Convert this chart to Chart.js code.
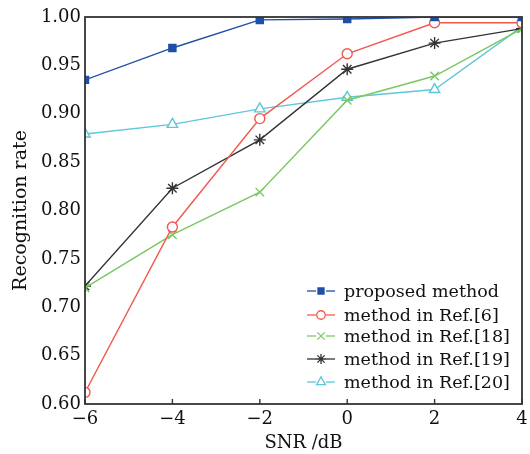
<!DOCTYPE html>
<html>
<head>
<meta charset="utf-8">
<script src="https://cdn.jsdelivr.net/npm/chart.js@4"></script>
<style>
html,body{margin:0;padding:0;background:#fff;}
#wrap{width:530px;height:454px;position:relative;}
</style>
</head>
<body>
<div id="wrap"><canvas id="c" width="530" height="454"></canvas></div>
<script>
const snr = [-6, -4, -2, 0, 2, 4];
const proposed = [0.935, 0.968, 0.997, 0.998, 1.000, 1.000];
const ref6 = [0.612, 0.783, 0.895, 0.962, 0.994, 0.994];
const ref18 = [0.720, 0.775, 0.819, 0.914, 0.939, 0.988];
const ref19 = [0.722, 0.823, 0.873, 0.946, 0.973, 0.988];
const ref20 = [0.879, 0.889, 0.905, 0.917, 0.925, 0.990];
const seriesNames = ['proposed method', 'method in Ref.[6]', 'method in Ref.[18]', 'method in Ref.[19]', 'method in Ref.[20]'];
const yTicks = [0.60, 0.65, 0.70, 0.75, 0.80, 0.85, 0.90, 0.95, 1.00];
const xTicks = [-6, -4, -2, 0, 2, 4];

const FONT = '"DejaVu Serif", "Liberation Serif", serif';

function pts(arr){ return arr.map((v,i)=>({x:snr[i], y:v})); }

const styles = [
  {color:'#1f4fa8', point:'rect', fill:'#1f4fa8', r:5},
  {color:'#f2584c', point:'circle', fill:'#ffffff', r:5},
  {color:'#7cc762', point:'crossRot', fill:'#7cc762', r:6},
  {color:'#333333', point:'star', fill:'#333333', r:6},
  {color:'#5cc8da', point:'triangle', fill:'#ffffff', r:6}
];
const allData = [proposed, ref6, ref18, ref19, ref20];

const datasets = allData.map((d,i)=>({
  label: seriesNames[i],
  data: pts(d),
  borderColor: styles[i].color,
  backgroundColor: styles[i].fill,
  borderWidth: 1.4,
  pointStyle: styles[i].point,
  pointRadius: styles[i].r,
  pointBorderColor: styles[i].color,
  pointBackgroundColor: styles[i].fill,
  pointBorderWidth: 1.4,
  tension: 0
}));

const framePlugin = {
  id:'frame',
  afterDatasetsDraw(chart){
    const {ctx, chartArea:a, scales} = chart;
    ctx.save();
    ctx.strokeStyle = '#333';
    ctx.lineWidth = 1.8;
    ctx.strokeRect(a.left, a.top, a.right-a.left, a.bottom-a.top);
    ctx.lineWidth = 1.4;
    xTicks.forEach(v=>{
      const x = scales.x.getPixelForValue(v);
      ctx.beginPath(); ctx.moveTo(x, a.bottom); ctx.lineTo(x, a.bottom-5); ctx.stroke();
    });
    ctx.restore();

    ctx.save();
    const lx0 = 307, lx1 = 335, tx = 344;
    const ys = [291, 315, 336, 359, 382];
    ctx.font = '17.5px ' + FONT;
    ctx.textBaseline = 'middle';
    chart.data.datasets.forEach((ds,i)=>{
      const y = ys[i];
      ctx.strokeStyle = ds.borderColor;
      ctx.lineWidth = 1.3;
      ctx.beginPath(); ctx.moveTo(lx0, y); ctx.lineTo(lx1, y); ctx.stroke();
      ctx.fillStyle = '#fff';
      ctx.fillRect((lx0+lx1)/2-5, y-5, 10, 10);
      ctx.fillStyle = ds.pointBackgroundColor;
      ctx.strokeStyle = ds.pointBorderColor;
      Chart.helpers.drawPoint(ctx, {pointStyle: ds.pointStyle, radius: ds.pointRadius*0.85, borderWidth: 1.3}, (lx0+lx1)/2, y);
      ctx.fillStyle = '#111';
      ctx.fillText(ds.label, tx, y+1);
    });
    ctx.restore();
  }
};

new Chart(document.getElementById('c'), {
  type:'line',
  data:{datasets},
  options:{
    responsive:false,
    animation:false,
    layout:{padding:{top:17, right:8, left:0, bottom:0}},
    plugins:{legend:{display:false}, tooltip:{enabled:false}},
    scales:{
      x:{
        type:'linear', min:-6, max:4,
        afterBuildTicks(s){ s.ticks = xTicks.map(v=>({value:v})); },
        afterFit(s){ s.height = 50; s.paddingLeft = 0; s.paddingRight = 0; },
        grid:{display:false, drawTicks:false},
        border:{display:false},
        ticks:{
          padding:5,
          color:'#111',
          font:{family:FONT, size:18},
          callback:v=> (v<0 ? '\u2212'+Math.abs(v) : String(v))
        },
        title:{display:true, text:'SNR /dB', color:'#111', font:{family:FONT, size:18}, padding:{top:0,bottom:0}}
      },
      y:{
        type:'linear', min:0.60, max:1.00,
        afterBuildTicks(s){ s.ticks = yTicks.map(v=>({value:v})); },
        afterFit(s){ s.width = 85; s.paddingTop = 0; s.paddingBottom = 0; },
        grid:{display:false, drawTicks:false},
        border:{display:false},
        ticks:{
          padding:4,
          color:'#111',
          font:{family:FONT, size:18},
          callback:v=> v.toFixed(2)
        },
        title:{display:true, text:'Recognition rate', color:'#111', font:{family:FONT, size:19}, padding:{top:10,bottom:0}}
      }
    }
  },
  plugins:[framePlugin]
});
</script>
</body>
</html>
